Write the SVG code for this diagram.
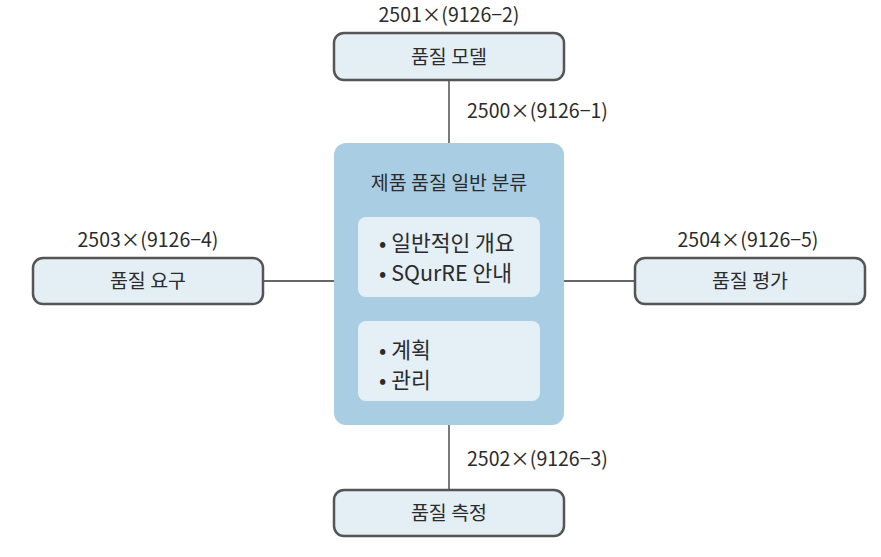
<svg xmlns="http://www.w3.org/2000/svg" width="881" height="557" viewBox="0 0 881 557">
<style>
text{font-family:"Noto Sans CJK KR","Noto Sans",sans-serif;font-size:19.5px;fill:#2b2b2b}
.c{text-anchor:middle}
.b{font-size:21.5px}
.node{fill:#e3eef5;stroke:#555;stroke-width:2.5}
.edge{stroke:#333;stroke-width:1.3;fill:none}
.inner{fill:#e4eff6}
</style>
<rect width="881" height="557" fill="#fff"/>
<g id="connectors">
<line class="edge" x1="449" y1="80" x2="449" y2="143"/>
<line class="edge" x1="449" y1="425" x2="449" y2="490"/>
<line class="edge" x1="263" y1="281" x2="334" y2="281"/>
<line class="edge" x1="564" y1="281" x2="635" y2="281"/>
<text x="467" y="118">2500×(9126−1)</text>
<text x="467" y="466">2502×(9126−3)</text>
</g>
<g id="model">
<text class="c" x="449" y="22">2501×(9126−2)</text>
<rect class="node" x="334" y="33" width="230" height="47" rx="10"/>
<text class="c" x="449" y="64">품질 모델</text>
</g>
<g id="general">
<rect x="334" y="143" width="230" height="282" rx="12" fill="#a9cde3"/>
<text class="c" x="449" y="190">제품 품질 일반 분류</text>
<rect class="inner" x="358" y="217" width="182" height="80" rx="8"/>
<text class="b" x="379" y="251">• 일반적인 개요</text>
<text class="b" x="379" y="281">• SQurRE 안내</text>
<rect class="inner" x="358" y="321" width="182" height="80" rx="8"/>
<text class="b" x="379" y="358">• 계획</text>
<text class="b" x="379" y="388">• 관리</text>
</g>
<g id="requirement">
<text class="c" x="148" y="247">2503×(9126−4)</text>
<rect class="node" x="33" y="258" width="230" height="46" rx="10"/>
<text class="c" x="148" y="288">품질 요구</text>
</g>
<g id="evaluation">
<text class="c" x="748" y="247">2504×(9126−5)</text>
<rect class="node" x="635" y="258" width="230" height="46" rx="10"/>
<text class="c" x="750" y="288">품질 평가</text>
</g>
<g id="measurement">
<rect class="node" x="334" y="490" width="230" height="46" rx="10"/>
<text class="c" x="449" y="520">품질 측정</text>
</g>
</svg>
